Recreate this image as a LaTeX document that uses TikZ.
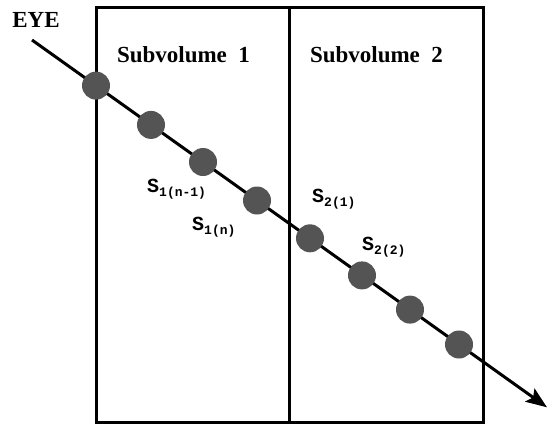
\documentclass[tikz,border=0pt]{standalone}
\usepackage{fontspec}
\setmainfont{Liberation Serif}
\newfontfamily\monob{Liberation Mono}
\usetikzlibrary{arrows.meta}
\tikzset{
  frame/.style={line width=3pt},
  ray/.style={line width=3pt,-{Stealth[length=21pt,width=16pt,inset=4pt]}},
  dot/.style={circle,fill=black!67,inner sep=0pt,minimum size=28pt},
  title/.style={font=\fontsize{23}{23}\selectfont\bfseries,anchor=base,inner sep=0pt},
  slab/.style={font=\fontsize{20}{20}\selectfont\monob\bfseries,anchor=base west,inner sep=0pt}
}
\newcommand{\ssub}[1]{\raisebox{-4pt}{\fontsize{13}{13}\selectfont #1}}
\begin{document}
\begin{tikzpicture}[x=1pt,y=-1pt]
\useasboundingbox (0,0) rectangle (548,426);
\draw[frame] (96,7) rectangle (483,422);
\draw[frame] (289,7) -- (289,422);
\node[title] (eye) at (36,27) {EYE};
\node[title] (sv1) at (183.5,62) {Subvolume~ 1};
\node[title] (sv2) at (376.5,62) {Subvolume~ 2};
\coordinate (start) at (32,40);
\coordinate (tip) at (547,407.3);
\draw[ray] (start) -- (tip);
\node[dot] (d1) at (96,85.6) {};
\node[dot] (d2) at (151,124.9) {};
\node[dot] (d3) at (203,162.0) {};
\node[dot] (d4) at (257,200.5) {};
\node[dot] (d5) at (310,238.3) {};
\node[dot] (d6) at (362,275.4) {};
\node[dot] (d7) at (410,309.6) {};
\node[dot] (d8) at (459,344.5) {};
\node[slab] (s1a) at (147,192) {S\ssub{1(n-1)}};
\node[slab] (s1b) at (192,230) {S\ssub{1(n)}};
\node[slab] (s2a) at (312,202) {S\ssub{2(1)}};
\node[slab] (s2b) at (362,250) {S\ssub{2(2)}};
\end{tikzpicture}
\end{document}
